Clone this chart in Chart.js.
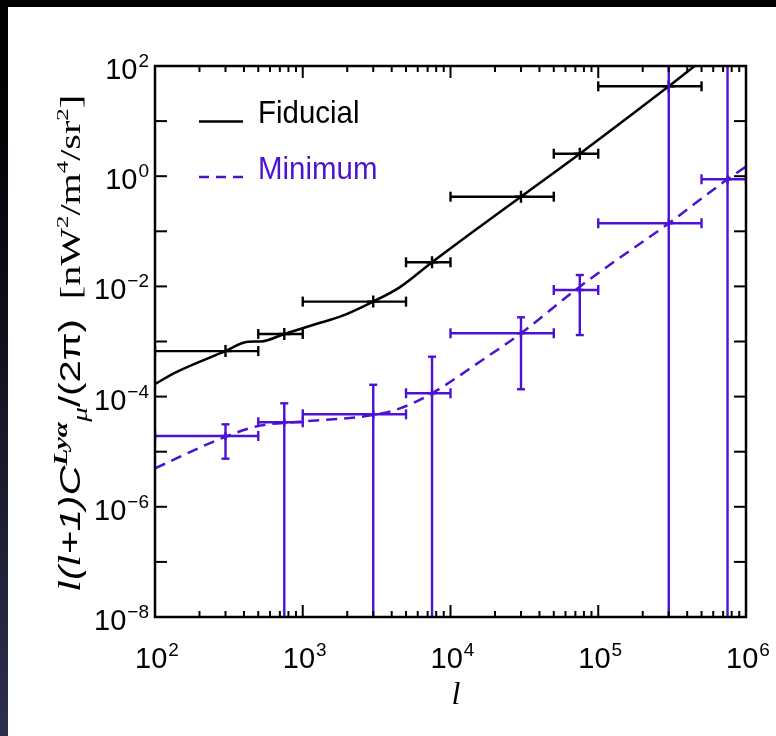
<!DOCTYPE html>
<html><head><meta charset="utf-8">
<script src="https://cdn.jsdelivr.net/npm/chart.js@4.4.0/dist/chart.umd.min.js"></script>
<style>html,body{margin:0;padding:0;background:#fff;overflow:hidden}canvas{display:block}</style>
</head><body>
<canvas id="c" width="776" height="736"></canvas>
<script>
// ---------------- data ----------------
const fidBinCenter = [300, 750, 3000, 7500, 30000, 75000, 300000];
const fidBinLo     = [100, 500, 1000, 5000, 10000, 50000, 100000];
const fidBinHi     = [500, 1000, 5000, 10000, 50000, 100000, 500000];
const fidBinValue  = [6.7e-4, 1.37e-3, 5.3e-3, 0.0274, 0.425, 2.56, 42.8];

const minBinCenter = [300, 750, 3000, 7500, 30000, 75000, 300000, 750000];
const minBinLo     = [100, 500, 1000, 5000, 10000, 50000, 100000, 500000];
const minBinHi     = [500, 1000, 5000, 10000, 50000, 100000, 500000, 1000000];
const minBinValue  = [1.93e-5, 3.42e-5, 4.77e-5, 1.15e-4, 1.41e-3, 8.6e-3, 0.14, 0.88];
const minErrUpper  = [3.14e-5, 7.55e-5, 1.64e-4, 5.3e-4, 2.75e-3, 0.0161, 1e6, 1e6];
const minErrLower  = [7.46e-6, 1e-12, 1e-12, 1e-12, 1.36e-4, 1.31e-3, 1e-12, 1e-12];

const fidCurveL = [100, 136, 300, 426, 522, 750, 1310, 1790, 3000, 4550, 7500, 15800, 30000, 75000, 300000, 450000, 1000000];
const fidCurveV = [1.69e-4, 2.7e-4, 6.7e-4, 9.9e-4, 1.0e-3, 1.37e-3, 2.19e-3, 2.82e-3, 5.3e-3, 9.7e-3, 0.0274, 0.121, 0.425, 2.56, 42.8, 100, 490];

const minCurveL = [100, 300, 513, 960, 3000, 4550, 7500, 15800, 30000, 75000, 300000, 750000, 1000000];
const minCurveV = [5.0e-6, 1.87e-5, 2.97e-5, 3.5e-5, 4.63e-5, 6.1e-5, 1.15e-4, 4.3e-4, 1.41e-3, 9.9e-3, 0.14, 0.88, 1.49];

const xTickExps = [2, 3, 4, 5, 6];
const yTickExps = [2, 0, -2, -4, -6, -8];
const seriesNames = ['Fiducial', 'Minimum'];
// --------------------------------------

const BLUE = 'rgb(76,18,212)';
const BLACK = '#000';

const zip = (xs, ys) => xs.map((x, i) => ({x, y: ys[i]}));

const fidPoints = fidBinCenter.map((x, i) => ({x, y: fidBinValue[i], xMin: fidBinLo[i], xMax: fidBinHi[i]}));
const minPoints = minBinCenter.map((x, i) => ({x, y: minBinValue[i], xMin: minBinLo[i], xMax: minBinHi[i], yMin: minErrLower[i], yMax: minErrUpper[i]}));

function line(ctx, x1, y1, x2, y2) { ctx.beginPath(); ctx.moveTo(x1, y1); ctx.lineTo(x2, y2); ctx.stroke(); }

function drawPow(ctx, exp, x, y, align) {
  const baseFont = '29px "Liberation Sans", Arial, sans-serif';
  const expFont = '19px "Liberation Sans", Arial, sans-serif';
  const e = String(exp).replace('-', '\u2212');
  ctx.font = baseFont; const w1 = ctx.measureText('10').width;
  ctx.font = expFont; const w2 = ctx.measureText(e).width;
  const tot = w1 + w2 + 1;
  let sx = align === 'center' ? x - tot / 2 : x - tot;
  ctx.textAlign = 'left'; ctx.textBaseline = 'alphabetic';
  ctx.font = baseFont; ctx.fillText('10', sx, y);
  ctx.font = expFont; ctx.fillText(e, sx + w1 + 1, y - 12);
}

function drawYTitle(ctx) {
  const serif = '"Liberation Serif", "DejaVu Serif", serif';
  const sans = '"Liberation Sans", Arial, sans-serif';
  const segs = [
    {t: 'l', st: 'italic', s: 28, fam: serif, dy: 0},
    {t: '(', st: 'italic', s: 26, fam: sans, dy: 0},
    {t: 'l', st: 'italic', s: 28, fam: serif, dy: 0},
    {t: '+1)', st: 'italic', s: 26, fam: sans, dy: 0},
    {t: 'C', st: 'italic', s: 27, fam: sans, dy: 0},
    {t: 'Lyα', st: 'italic bold', s: 18, fam: serif, dy: -12},
    {t: 'μ', st: 'italic', s: 19, fam: serif, dy: 6},
    {t: '/(2π)', st: '', s: 26, fam: sans, dy: 0},
    {t: '  [nW', st: '', s: 26, fam: serif, dy: 0},
    {t: '2', st: '', s: 16, fam: serif, dy: -11},
    {t: '/m', st: '', s: 26, fam: serif, dy: 0},
    {t: '4', st: '', s: 16, fam: serif, dy: -11},
    {t: '/sr', st: '', s: 26, fam: serif, dy: 0},
    {t: '2', st: '', s: 16, fam: serif, dy: -11},
    {t: ']', st: '', s: 26, fam: serif, dy: 0}
  ];
  const k = 1.1;
  const fontOf = g => (g.st ? g.st + ' ' : '') + (g.s * k).toFixed(2) + 'px ' + g.fam;
  let total = 0;
  segs.forEach(g => { ctx.font = fontOf(g); g.w = ctx.measureText(g.t).width; total += g.w; });
  const sc = 497 / total;
  ctx.save();
  ctx.translate(80, 592);
  ctx.rotate(-Math.PI / 2);
  ctx.scale(sc, 1);
  ctx.fillStyle = BLACK; ctx.textAlign = 'left'; ctx.textBaseline = 'alphabetic';
  let cx = 0;
  segs.forEach(g => { ctx.font = fontOf(g); ctx.fillText(g.t, cx, g.dy * k); cx += g.w; });
  ctx.restore();
}

const decor = {
  id: 'decor',
  beforeDraw(chart) {
    const ctx = chart.ctx, W = chart.width, H = chart.height;
    ctx.save();
    ctx.fillStyle = '#fff'; ctx.fillRect(0, 0, W, H);
    ctx.fillStyle = '#000'; ctx.fillRect(0, 0, W, 7);
    const g = ctx.createLinearGradient(0, 0, 0, H);
    g.addColorStop(0, '#000'); g.addColorStop(0.3, '#08080e'); g.addColorStop(1, '#2e2e4e');
    ctx.fillStyle = g; ctx.fillRect(0, 0, 8, H);
    ctx.restore();
  },
  afterDatasetsDraw(chart) {
    const ctx = chart.ctx, a = chart.chartArea, xs = chart.scales.x, ys = chart.scales.y;
    ctx.save();
    ctx.beginPath(); ctx.rect(a.left - 1, a.top - 1, a.right - a.left + 2, a.bottom - a.top + 2); ctx.clip();
    chart.data.datasets.forEach(ds => {
      if (!ds.errorBars) return;
      ctx.strokeStyle = ds.borderColor; ctx.lineWidth = 2.4;
      ds.data.forEach(p => {
        const px = xs.getPixelForValue(p.x), py = ys.getPixelForValue(p.y);
        const x1 = xs.getPixelForValue(p.xMin), x2 = xs.getPixelForValue(p.xMax);
        line(ctx, x1, py, x2, py);
        line(ctx, x1, py - 5, x1, py + 5);
        line(ctx, x2, py - 5, x2, py + 5);
        if (p.yMin !== undefined) {
          const y1 = ys.getPixelForValue(p.yMin), y2 = ys.getPixelForValue(p.yMax);
          line(ctx, px, y1, px, y2);
          line(ctx, px - 4, y1, px + 4, y1);
          line(ctx, px - 4, y2, px + 4, y2);
        }
      });
    });
    ctx.restore();
  },
  afterDraw(chart) {
    const ctx = chart.ctx, a = chart.chartArea, xs = chart.scales.x, ys = chart.scales.y;
    ctx.save();
    // frame
    ctx.strokeStyle = BLACK; ctx.lineWidth = 2.5;
    ctx.strokeRect(a.left, a.top, a.right - a.left, a.bottom - a.top);
    // x ticks
    ctx.lineWidth = 2;
    for (let e = xTickExps[0]; e < xTickExps[xTickExps.length - 1]; e++) {
      for (let k = 1; k < 10; k++) {
        const px = xs.getPixelForValue(k * Math.pow(10, e));
        const len = k === 1 ? 12 : 6;
        line(ctx, px, a.bottom, px, a.bottom - len);
        line(ctx, px, a.top, px, a.top + len);
      }
    }
    // y ticks
    for (let e = -8; e <= 2; e++) {
      const py = ys.getPixelForValue(Math.pow(10, e));
      line(ctx, a.left, py, a.left + 12, py);
      line(ctx, a.right, py, a.right - 12, py);
    }
    // tick labels
    ctx.fillStyle = BLACK;
    xTickExps.forEach(e => drawPow(ctx, e, xs.getPixelForValue(Math.pow(10, e)) + 2, 668, 'center'));
    yTickExps.forEach(e => drawPow(ctx, e, a.left - 6, ys.getPixelForValue(Math.pow(10, e)) + 13, 'right'));
    // x title
    ctx.font = 'italic 32px "Liberation Serif", serif';
    ctx.textAlign = 'center'; ctx.textBaseline = 'alphabetic';
    ctx.fillText('l', 456, 704);
    // y title
    drawYTitle(ctx);
    // legend
    const lx1 = 199, lx2 = 243;
    ctx.lineWidth = 2.5;
    ctx.strokeStyle = BLACK; line(ctx, lx1, 121.5, lx2, 121.5);
    ctx.strokeStyle = BLUE; ctx.setLineDash([10, 7]); line(ctx, lx1, 177, lx2 + 1, 177); ctx.setLineDash([]);
    ctx.font = '32px "Liberation Sans", Arial, sans-serif';
    ctx.textAlign = 'left';
    [[seriesNames[0], BLACK, 123], [seriesNames[1], BLUE, 178.5]].forEach(([t, c, y]) => {
      ctx.save(); ctx.translate(258, y); ctx.scale(0.92, 1); ctx.fillStyle = c; ctx.fillText(t, 0, 0); ctx.restore();
    });
    ctx.restore();
  }
};

new Chart(document.getElementById('c'), {
  type: 'scatter',
  data: {
    datasets: [
      {label: seriesNames[0], type: 'line', data: zip(fidCurveL, fidCurveV), borderColor: BLACK, borderWidth: 2.5,
       pointRadius: 0, cubicInterpolationMode: 'monotone', fill: false, clip: 0},
      {label: seriesNames[1], type: 'line', data: zip(minCurveL, minCurveV), borderColor: BLUE, borderWidth: 2.5,
       borderDash: [11, 7], pointRadius: 0, cubicInterpolationMode: 'monotone', fill: false, clip: 0},
      {label: seriesNames[0] + ' bins', data: fidPoints, errorBars: true, borderColor: BLACK, backgroundColor: BLACK,
       pointStyle: 'cross', pointRadius: 6, borderWidth: 2.4, showLine: false, clip: 0},
      {label: seriesNames[1] + ' bins', data: minPoints, errorBars: true, borderColor: BLUE, backgroundColor: BLUE,
       pointStyle: 'cross', pointRadius: 4, borderWidth: 2.4, showLine: false, clip: 0}
    ]
  },
  options: {
    responsive: false,
    animation: false,
    events: [],
    layout: {padding: {left: 0, top: 66, right: 30, bottom: 0}},
    plugins: {legend: {display: false}, tooltip: {enabled: false}},
    scales: {
      x: {type: 'logarithmic', min: 100, max: 1e6, grid: {display: false}, border: {display: false},
          ticks: {display: false}, afterFit(s) { s.height = 119; }},
      y: {type: 'logarithmic', min: 1e-8, max: 100, grid: {display: false}, border: {display: false},
          ticks: {display: false}, afterFit(s) { s.width = 155; }}
    }
  },
  plugins: [decor]
});
</script>
</body></html>
